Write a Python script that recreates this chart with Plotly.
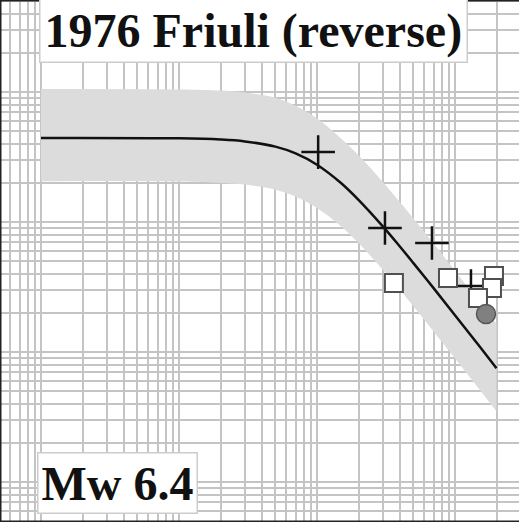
import plotly.graph_objects as go

# Model curve (distance km, PGA g)
curve_r = [0.1, 1, 2, 3, 5, 7, 10, 15, 20, 30, 40, 50, 70, 100, 150, 200]
curve_a = [0.443, 0.440, 0.431, 0.417, 0.380, 0.337, 0.276, 0.1986, 0.148,
           0.0925, 0.0645, 0.0483, 0.0310, 0.0192, 0.0111, 0.00751]
band_upper = [1.054, 1.047, 1.026, 0.992, 0.904, 0.785, 0.629, 0.437, 0.326,
              0.2035, 0.142, 0.1063, 0.0682, 0.0422, 0.0244, 0.0165]
band_lower = [0.206, 0.205, 0.200, 0.194, 0.177, 0.157, 0.128, 0.0924, 0.0688,
              0.0430, 0.0300, 0.0225, 0.0144, 0.00893, 0.00516, 0.00349]

# Observations
plus_r = [10.2, 31.1, 68.1, 130.6]
plus_a = [0.345, 0.090, 0.0689, 0.0322]
square_r = [36.1, 89.0, 191.7, 185.4, 146.8]
square_a = [0.034, 0.0371, 0.0385, 0.0311, 0.026]
circle_r = [167.8]
circle_a = [0.0196]

title_text = "1976 Friuli (reverse)"
mag_text = "Mw 6.4"

fig = go.Figure()
fig.add_trace(go.Scatter(x=curve_r, y=band_lower, mode="lines", line_shape="spline",
                         line=dict(width=0, color="#dcdcdc"), showlegend=False,
                         hoverinfo="skip"))
fig.add_trace(go.Scatter(x=curve_r, y=band_upper, mode="lines", fill="tonexty",
                         line_shape="spline",
                         fillcolor="#dcdcdc", line=dict(width=0, color="#dcdcdc"),
                         showlegend=False, hoverinfo="skip"))
fig.add_trace(go.Scatter(x=curve_r, y=curve_a, mode="lines", line_shape="spline",
                         line=dict(color="#111111", width=2.5), showlegend=False))
fig.add_trace(go.Scatter(x=plus_r, y=plus_a, mode="markers",
                         marker=dict(symbol="cross-thin", size=24,
                                     line=dict(color="#111111", width=2.5)),
                         showlegend=False))
fig.add_trace(go.Scatter(x=square_r, y=square_a, mode="markers",
                         marker=dict(symbol="square", size=18, color="white",
                                     line=dict(color="#505050", width=2)),
                         showlegend=False))
fig.add_trace(go.Scatter(x=circle_r, y=circle_a, mode="markers",
                         marker=dict(symbol="circle", size=19, color="#808080",
                                     line=dict(color="#555555", width=1.5)),
                         showlegend=False))

axis_common = dict(type="log", dtick="D1", showticklabels=False, ticks="",
                   showgrid=True, gridcolor="#c4c4c4", gridwidth=1.5,
                   zeroline=False, showline=False)
fig.update_xaxes(range=[-1.297, 2.464], **axis_common)
fig.update_yaxes(range=[-3.308, 0.708], **axis_common)

# frame (left, top, bottom edges)
for x0, y0, x1, y1 in [(0, 0, 0, 1), (0, 1, 1, 1), (0, 0, 1, 0)]:
    fig.add_shape(type="line", xref="paper", yref="paper", x0=x0, y0=y0,
                  x1=x1, y1=y1, line=dict(color="#222222", width=3))

fig.add_annotation(text="<b>" + title_text + "</b>", xref="paper", yref="paper",
                   x=0.489, y=0.942, xanchor="center", yanchor="middle",
                   showarrow=False,
                   font=dict(family="Liberation Serif", size=48, color="#111111"),
                   bgcolor="white", bordercolor="#cccccc", borderwidth=1.5,
                   borderpad=4)
fig.add_annotation(text="<b>" + mag_text + "</b>", xref="paper", yref="paper",
                   x=0.227, y=0.074, xanchor="center", yanchor="middle",
                   showarrow=False,
                   font=dict(family="Liberation Serif", size=48, color="#111111"),
                   bgcolor="white", bordercolor="#cccccc", borderwidth=1.5,
                   borderpad=3)

fig.update_layout(width=519, height=522, margin=dict(l=0, r=0, t=0, b=0),
                  paper_bgcolor="white", plot_bgcolor="white")
fig.write_html("out.html", config={"displayModeBar": False},
               post_script="document.body.style.margin='0';document.body.style.overflow='hidden';")
